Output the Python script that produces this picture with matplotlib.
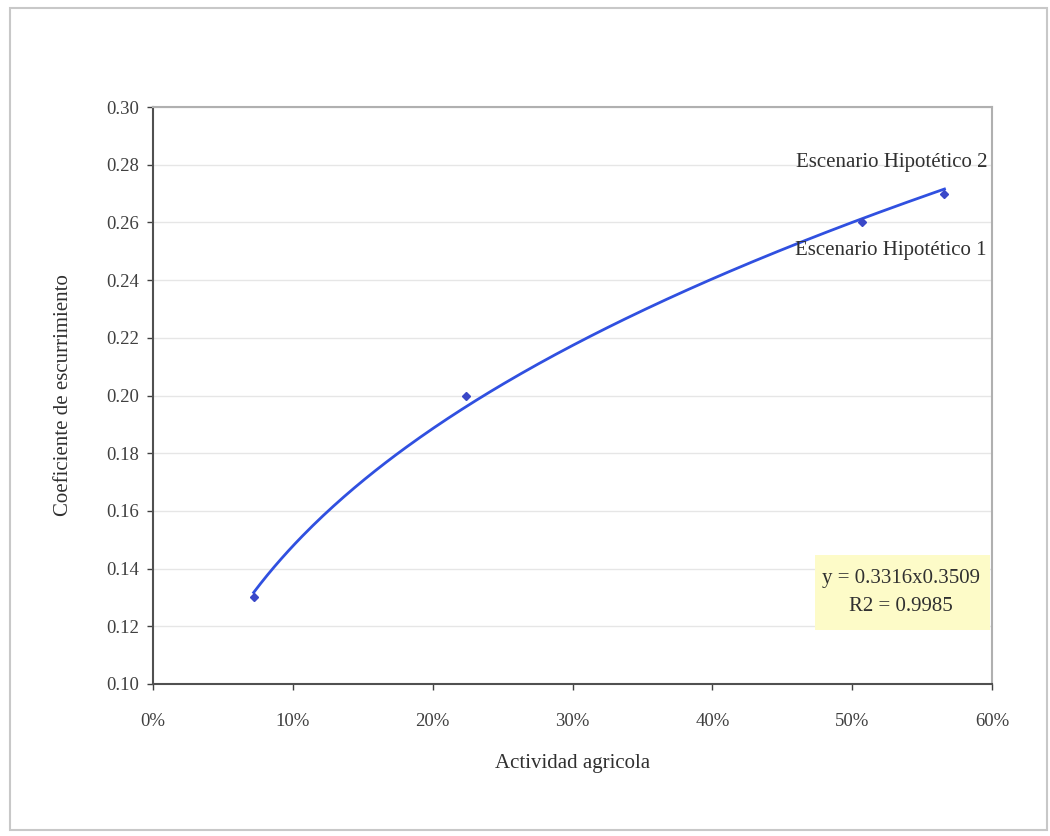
import numpy as np
import matplotlib.pyplot as plt
from matplotlib.patches import Rectangle
from matplotlib.ticker import FuncFormatter

plt.rcParams['font.family'] = ['Liberation Serif', 'DejaVu Serif']

# datos
actividad = [0.072, 0.224, 0.507, 0.566]
coeficiente = [0.13, 0.20, 0.26, 0.27]
etiquetas = ["Escenario Hipotético 1", "Escenario Hipotético 2"]
a_coef = 0.3316
b_exp = 0.3509
r2 = 0.9985

fig = plt.figure(figsize=(10.5, 8.36), dpi=100)
fig.patches.append(Rectangle((10/1050, 1 - 830/836), 1037/1050, 822/836,
                             transform=fig.transFigure, fill=False,
                             edgecolor='#c8c8c8', lw=1.5))

ax = fig.add_axes([153/1050, 1 - 684/836, 839/1050, 577/836])

# linea de tendencia potencial
xs = np.linspace(min(actividad), max(actividad), 200)
ax.plot(xs, a_coef * xs ** b_exp, color='#3050e0', lw=2, zorder=3)
ax.plot(actividad, coeficiente, 'D', color='#3a48c8', ms=4, zorder=4)

ax.set_xlim(0, 0.6)
ax.set_ylim(0.10, 0.30)
ax.set_xticks(np.arange(0, 0.61, 0.1))
ax.set_yticks(np.arange(0.10, 0.301, 0.02))
ax.xaxis.set_major_formatter(FuncFormatter(lambda v, p: f"{v*100:.0f}%"))
ax.yaxis.set_major_formatter(FuncFormatter(lambda v, p: f"{v:.2f}"))
ax.tick_params(labelsize=13.5, colors='#404040', length=4, width=1)
ax.tick_params(axis='x', pad=17)
ax.tick_params(axis='y', pad=6)
ax.grid(axis='y', color='#e6e6e6', lw=1)
ax.set_axisbelow(True)

for s in ['left', 'bottom']:
    ax.spines[s].set_color('#505050')
    ax.spines[s].set_linewidth(1.5)
for s in ['top', 'right']:
    ax.spines[s].set_color('#b0b0b0')
    ax.spines[s].set_linewidth(1.5)

ax.set_xlabel("Actividad agricola", fontsize=15, color='#303030', labelpad=17)
ax.set_ylabel("Coeficiente de escurrimiento", fontsize=15, color='#303030', labelpad=24)

ax.annotate(etiquetas[1], (actividad[3], coeficiente[3]), xytext=(31, 22),
            textcoords='offset points', ha='right', va='center',
            fontsize=15, color='#303030')
ax.annotate(etiquetas[0], (actividad[2], coeficiente[2]), xytext=(90, -20),
            textcoords='offset points', ha='right', va='center',
            fontsize=15, color='#303030')

# cuadro de la ecuacion
ax.add_patch(Rectangle((0.4734, 0.1187), 0.1252, 0.026, facecolor='#fdfbc8',
                       edgecolor='none', zorder=2))
ax.text(0.535, 0.1367, f"y = {a_coef}x{b_exp}", ha='center', va='center',
        fontsize=15, color='#303030', zorder=5)
ax.text(0.535, 0.1270, f"R2 = {r2}", ha='center', va='center',
        fontsize=15, color='#303030', zorder=5)

fig.savefig('out.png', dpi=100)
